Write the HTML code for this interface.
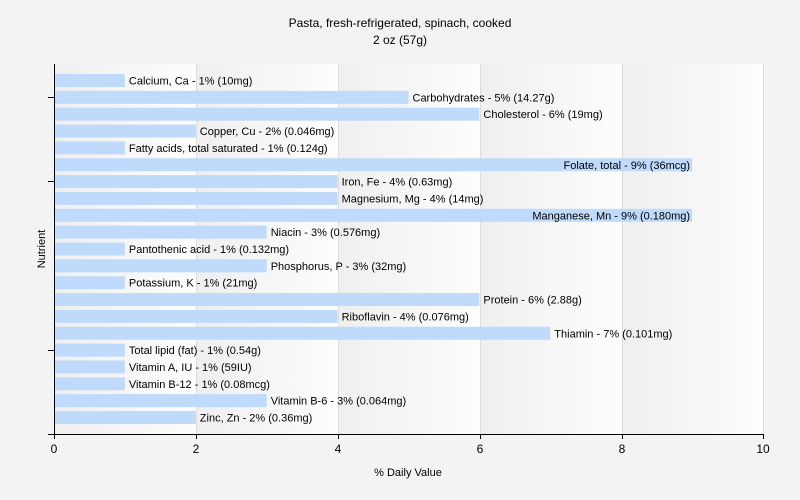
<!DOCTYPE html>
<html><head><meta charset="utf-8"><style>
body{margin:0;background:#f3f3f3;}
svg{display:block;font-family:"Liberation Sans",sans-serif;}
</style></head><body>
<svg width="800" height="500" xmlns="http://www.w3.org/2000/svg">
<defs>
<linearGradient id="g" x1="0" x2="1" y1="0" y2="0">
<stop offset="0" stop-color="#efefef"/><stop offset="1" stop-color="#fdfdfd"/>
</linearGradient>
</defs>
<rect width="800" height="500" fill="#f3f3f3"/>
<text x="400" y="27" font-size="12" text-anchor="middle">Pasta, fresh-refrigerated, spinach, cooked</text>
<text x="400" y="44" font-size="12" text-anchor="middle">2 oz (57g)</text>
<rect x="54" y="64" width="142" height="370" fill="url(#g)"/>
<rect x="196" y="64" width="142" height="370" fill="url(#g)"/>
<rect x="338" y="64" width="142" height="370" fill="url(#g)"/>
<rect x="480" y="64" width="142" height="370" fill="url(#g)"/>
<rect x="622" y="64" width="141" height="370" fill="url(#g)"/>
<g stroke="#dddddd" stroke-width="1">
<line x1="196.5" y1="64" x2="196.5" y2="434"/>
<line x1="338.5" y1="64" x2="338.5" y2="434"/>
<line x1="480.5" y1="64" x2="480.5" y2="434"/>
<line x1="622.5" y1="64" x2="622.5" y2="434"/>
<line x1="763.5" y1="64" x2="763.5" y2="434"/>
</g>
<g fill="#c0dafc">
<rect x="55" y="74" width="69.9" height="13"/>
<rect x="55" y="90.85" width="353.5" height="13"/>
<rect x="55" y="107.7" width="424.4" height="13"/>
<rect x="55" y="124.55" width="140.8" height="13"/>
<rect x="55" y="141.4" width="69.9" height="13"/>
<rect x="55" y="158.25" width="637.1" height="13"/>
<rect x="55" y="175.1" width="282.6" height="13"/>
<rect x="55" y="191.95" width="282.6" height="13"/>
<rect x="55" y="208.8" width="637.1" height="13"/>
<rect x="55" y="225.65" width="211.7" height="13"/>
<rect x="55" y="242.5" width="69.9" height="13"/>
<rect x="55" y="259.35" width="211.7" height="13"/>
<rect x="55" y="276.2" width="69.9" height="13"/>
<rect x="55" y="293.05" width="424.4" height="13"/>
<rect x="55" y="309.9" width="282.6" height="13"/>
<rect x="55" y="326.75" width="495.3" height="13"/>
<rect x="55" y="343.6" width="69.9" height="13"/>
<rect x="55" y="360.45" width="69.9" height="13"/>
<rect x="55" y="377.3" width="69.9" height="13"/>
<rect x="55" y="394.15" width="211.7" height="13"/>
<rect x="55" y="411" width="140.8" height="13"/>
</g>
<g font-size="11" fill="#000">
<text x="128.9" y="84.5">Calcium, Ca - 1% (10mg)</text>
<text x="412.5" y="101.35">Carbohydrates - 5% (14.27g)</text>
<text x="483.4" y="118.2">Cholesterol - 6% (19mg)</text>
<text x="199.8" y="135.05">Copper, Cu - 2% (0.046mg)</text>
<text x="128.9" y="151.9">Fatty acids, total saturated - 1% (0.124g)</text>
<text x="690.1" y="168.75" text-anchor="end">Folate, total - 9% (36mcg)</text>
<text x="341.6" y="185.6">Iron, Fe - 4% (0.63mg)</text>
<text x="341.6" y="202.45">Magnesium, Mg - 4% (14mg)</text>
<text x="690.1" y="219.3" text-anchor="end">Manganese, Mn - 9% (0.180mg)</text>
<text x="270.7" y="236.15">Niacin - 3% (0.576mg)</text>
<text x="128.9" y="253">Pantothenic acid - 1% (0.132mg)</text>
<text x="270.7" y="269.85">Phosphorus, P - 3% (32mg)</text>
<text x="128.9" y="286.7">Potassium, K - 1% (21mg)</text>
<text x="483.4" y="303.55">Protein - 6% (2.88g)</text>
<text x="341.6" y="320.4">Riboflavin - 4% (0.076mg)</text>
<text x="554.3" y="337.25">Thiamin - 7% (0.101mg)</text>
<text x="128.9" y="354.1">Total lipid (fat) - 1% (0.54g)</text>
<text x="128.9" y="370.95">Vitamin A, IU - 1% (59IU)</text>
<text x="128.9" y="387.8">Vitamin B-12 - 1% (0.08mcg)</text>
<text x="270.7" y="404.65">Vitamin B-6 - 3% (0.064mg)</text>
<text x="199.8" y="421.5">Zinc, Zn - 2% (0.36mg)</text>
</g>
<g stroke="#000" stroke-width="1">
<line x1="54.5" y1="64" x2="54.5" y2="434"/>
<line x1="48" y1="434.5" x2="763" y2="434.5"/>
<line x1="48" y1="97.5" x2="54" y2="97.5"/>
<line x1="48" y1="181.5" x2="54" y2="181.5"/>
<line x1="48" y1="350.5" x2="54" y2="350.5"/>
<line x1="54.5" y1="434" x2="54.5" y2="439"/>
<line x1="196.5" y1="434" x2="196.5" y2="439"/>
<line x1="338.5" y1="434" x2="338.5" y2="439"/>
<line x1="480.5" y1="434" x2="480.5" y2="439"/>
<line x1="622.5" y1="434" x2="622.5" y2="439"/>
<line x1="763.5" y1="434" x2="763.5" y2="439"/>
</g>
<g font-size="12" text-anchor="middle">
<text x="54" y="453">0</text><text x="196" y="453">2</text><text x="338" y="453">4</text>
<text x="480" y="453">6</text><text x="622" y="453">8</text><text x="763" y="453">10</text>
</g>
<text x="408" y="476" font-size="11" text-anchor="middle">% Daily Value</text>
<text x="45" y="249" font-size="11" text-anchor="middle" transform="rotate(-90 45 249)">Nutrient</text>
</svg>
</body></html>
